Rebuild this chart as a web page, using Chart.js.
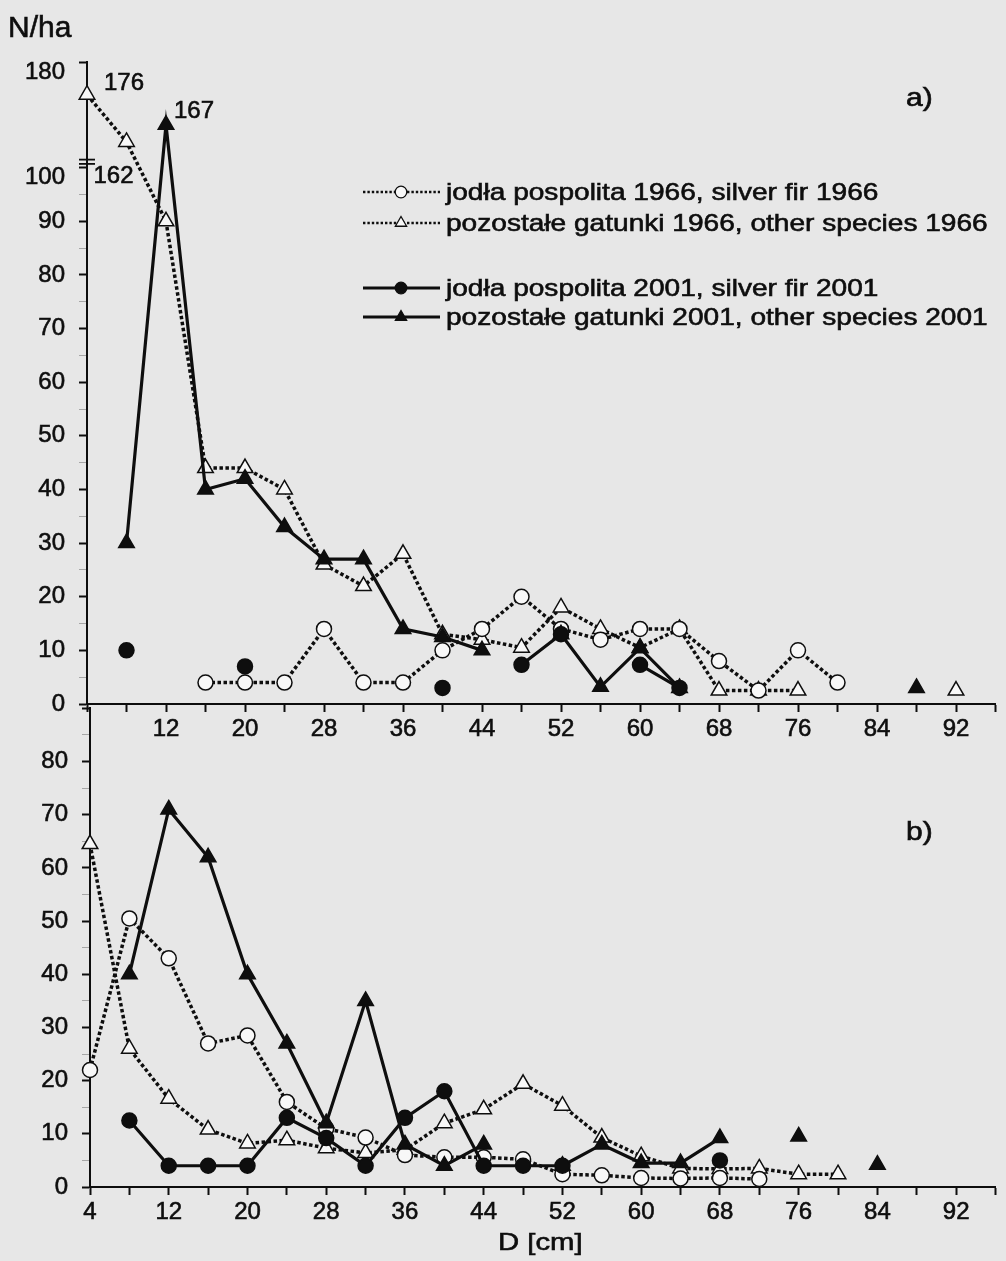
<!DOCTYPE html>
<html>
<head>
<meta charset="utf-8">
<script src="https://cdn.jsdelivr.net/npm/chart.js@4.4.1/dist/chart.umd.min.js"></script>
<style>
html,body{margin:0;padding:0;background:#e7e7e7;}
body{width:1006px;height:1261px;position:relative;overflow:hidden;font-family:"Liberation Sans",Arial,sans-serif;color:#0e0e0e;}
canvas{position:absolute;left:0;}
#c1{top:0;}
#c2{top:680px;}
.lbl{position:absolute;white-space:nowrap;line-height:1;transform-origin:left top;-webkit-text-stroke:0.6px #0e0e0e;}
</style>
</head>
<body>
<canvas id="c1" width="1006" height="760"></canvas>
<canvas id="c2" width="1006" height="581"></canvas>
<div class="lbl" style="left:8px;top:12px;font-size:30px;">N/ha</div>
<div class="lbl" style="left:906px;top:85px;font-size:25px;transform:scaleX(1.2);">a)</div>
<div class="lbl" style="left:906px;top:819px;font-size:25px;transform:scaleX(1.2);">b)</div>
<div class="lbl" style="left:498px;top:1230px;font-size:24px;transform:scaleX(1.22);">D [cm]</div>
<script>
// ---------- DATA ----------
const D = [4,8,12,16,20,24,28,32,36,40,44,48,52,56,60,64,68,72,76,80,84,88,92];
const X_TICKS = [4,8,12,16,20,24,28,32,36,40,44,48,52,56,60,64,68,72,76,80,84,88,92,96];

const LABELS = [
  'jodła pospolita 1966, silver fir 1966',
  'pozostałe gatunki 1966, other species 1966',
  'jodła pospolita 2001, silver fir 2001',
  'pozostałe gatunki 2001, other species 2001'
];

// panel a)
const aFir1966   = [null,null,null,4,4,4,14,4,4,10,14,20,14,12,14,14,8,2.5,10,4,null,null,null];
const aOther1966 = [176,162,90,44,44,40,26,22,28,13,12,10.5,18,14,10.5,14,2.5,2.5,2.5,null,null,null,2.5];
const aFir2001   = [null,10,null,null,7,null,null,null,null,3,null,7.3,13,null,7.3,3,null,null,null,null,null,null,null];
const aOther2001 = [null,30,167,40,42,33,27,27,14,12.5,10,null,13,3.2,10.4,3,null,null,null,null,null,3,null];

// panel b)
const bFir1966   = [22,50.5,43,27,28.5,16,11,9.3,6,5.6,5.6,5.2,2.4,2.2,1.7,1.6,1.7,1.5,null,null,null,null,null];
const bOther1966 = [64.5,26,16.6,10.8,8.2,8.8,7.3,6.4,7,12,14.6,19.4,15.3,9.3,5.8,3.5,3.4,3.5,2.4,2.4,null,null,null];
const bFir2001   = [null,12.5,4,4,4,13,9.2,4,13,18,4,4,4,null,null,null,5,null,null,null,null,null,null];
const bOther2001 = [null,40,71,62,40,27,12,35,8,4,8,null,4,8,4.5,4.5,9.2,null,9.5,null,4.2,null,null];

// y ticks
const A_Y_TICKS = [0,5,10,15,20,25,30,35,40,45,50,55,60,65,70,75,80,85,90,95,100];
const A_Y_BREAK_TOP = 180;
const B_Y_TICKS = [0,5,10,15,20,25,30,35,40,45,50,55,60,65,70,75,80,85,90];

// broken axis (panel a): real values above 100 -> compressed display positions
const BREAK_REAL = [100, 162, 167, 176, 180];
const BREAK_DISP = [100, 104.8, 108, 113.6, 119.7];
function toDisp(v){
  if (v <= 100) return v;
  for (let i = 1; i < BREAK_REAL.length; i++){
    if (v <= BREAK_REAL[i]){
      const t = (v - BREAK_REAL[i-1])/(BREAK_REAL[i]-BREAK_REAL[i-1]);
      return BREAK_DISP[i-1] + t*(BREAK_DISP[i]-BREAK_DISP[i-1]);
    }
  }
  return BREAK_DISP[BREAK_DISP.length-1];
}

// ---------- STYLE ----------
const FONT = '"Liberation Sans", Arial, sans-serif';
const INK = '#0e0e0e';
const HOLLOW = '#f8f8f8';
const TXT_STROKE = 0.6;
Chart.defaults.font.family = FONT;
Chart.defaults.font.size = 24;
Chart.defaults.color = INK;

const STY = [
  {pointStyle:'circle',   fill:HOLLOW, dash:[3.5,2.5], order:2, r:7.5, w:3.5},
  {pointStyle:'triangle', fill:HOLLOW, dash:[3.5,2.5], order:3, r:9,   w:3.5},
  {pointStyle:'circle',   fill:INK,    dash:[],        order:0, r:7.5, w:3.2},
  {pointStyle:'triangle', fill:INK,    dash:[],        order:1, r:9,   w:3.2}
];

function makeDatasets(series, disp){
  return series.map((vals, i) => ({
    label: LABELS[i],
    data: D.map((x, j) => ({x: x, y: vals[j] == null ? null : disp(vals[j])})),
    borderColor: INK,
    borderWidth: STY[i].w,
    borderDash: STY[i].dash,
    borderCapStyle: 'butt',
    pointStyle: STY[i].pointStyle,
    pointRadius: STY[i].r,
    pointBackgroundColor: STY[i].fill,
    pointBorderColor: INK,
    pointBorderWidth: 1.5,
    spanGaps: false,
    tension: 0,
    clip: false,
    order: STY[i].order
  }));
}

function drawMarker(ctx, style, r, x, y){
  ctx.beginPath();
  if (style === 'circle'){
    ctx.arc(x, y, r, 0, Math.PI*2);
  } else {
    let a = 0;
    ctx.moveTo(x + Math.sin(a)*r, y - Math.cos(a)*r);
    a += 2*Math.PI/3; ctx.lineTo(x + Math.sin(a)*r, y - Math.cos(a)*r);
    a += 2*Math.PI/3; ctx.lineTo(x + Math.sin(a)*r, y - Math.cos(a)*r);
    ctx.closePath();
  }
  ctx.fill(); ctx.stroke();
}

function heavyText(ctx, text, x, y){
  ctx.fillText(text, x, y);
  ctx.lineWidth = TXT_STROKE; ctx.strokeStyle = INK;
  ctx.strokeText(text, x, y);
}

const LEGEND_ROWS = [192, 223, 288, 317];
const LEGEND_X = {lineStart:363, marker:401, lineEnd:440, text:446};
const ANNOT = [
  {series:'aOther1966', idx:0, dx:17, dy:-11},
  {series:'aOther2001', idx:2, dx:8,  dy:-13},
  {series:'aOther1966', idx:1, dx:-33, dy:34}
];
const SERIES_A = {aFir1966, aOther1966, aFir2001, aOther2001};

const overlayA = {
  id: 'overlayA',
  afterDraw(chart){
    const ctx = chart.ctx;
    const xs = chart.scales.x, ys = chart.scales.y;
    // axis break marks
    ctx.save();
    ctx.strokeStyle = INK; ctx.lineWidth = 1.8;
    [100.7, 101.5].forEach(v => {
      const py = ys.getPixelForValue(v);
      ctx.beginPath(); ctx.moveTo(xs.left - 8, py); ctx.lineTo(xs.left + 8, py); ctx.stroke();
    });
    ctx.restore();
    // value annotations
    ctx.save();
    ctx.fillStyle = INK; ctx.font = '24px ' + FONT;
    ctx.textAlign = 'left'; ctx.textBaseline = 'middle';
    ANNOT.forEach(a => {
      const v = SERIES_A[a.series][a.idx];
      const px = xs.getPixelForValue(D[a.idx]);
      const py = ys.getPixelForValue(toDisp(v));
      heavyText(ctx, String(v), px + a.dx, py + a.dy);
    });
    ctx.restore();
    // legend
    chart.data.datasets.forEach((ds, i) => {
      const y = LEGEND_ROWS[i];
      ctx.save();
      ctx.strokeStyle = INK;
      const dotted = ds.borderDash.length > 0;
      ctx.lineWidth = dotted ? 2.4 : 3;
      ctx.setLineDash(dotted ? [2.4,2] : []);
      ctx.beginPath(); ctx.moveTo(LEGEND_X.lineStart, y); ctx.lineTo(LEGEND_X.lineEnd, y); ctx.stroke();
      ctx.setLineDash([]);
      ctx.fillStyle = ds.pointBackgroundColor; ctx.lineWidth = 1.3;
      drawMarker(ctx, ds.pointStyle, ds.pointStyle === 'circle' ? 5.8 : 6.5, LEGEND_X.marker, y);
      ctx.fillStyle = INK; ctx.font = '24px ' + FONT;
      ctx.textAlign = 'left'; ctx.textBaseline = 'middle';
      ctx.translate(LEGEND_X.text, y); ctx.scale(1.17, 1);
      heavyText(ctx, ds.label, 0, 1);
      ctx.restore();
    });
  }
};

function gridOpts(isMinor){
  return {
    display: true,
    drawOnChartArea: false,
    drawTicks: true,
    tickLength: 8,
    tickColor: c => (c.tick && isMinor(c.tick.value)) ? 'rgba(0,0,0,0.28)' : INK,
    tickWidth: c => (c.tick && isMinor(c.tick.value)) ? 1 : 2
  };
}

function xScale(labelFn, height){
  return {
    type: 'linear', min: 4, max: 96,
    afterBuildTicks: s => { s.ticks = X_TICKS.map(v => ({value: v})); },
    afterFit: s => { s.height = height; },
    border: {display: true, color: INK, width: 2},
    grid: gridOpts(() => false),
    ticks: {autoSkip: false, maxRotation: 0, minRotation: 0, padding: 3, color: INK,
            textStrokeColor: INK, textStrokeWidth: TXT_STROKE,
            font: {size: 24}, callback: v => labelFn(v)}
  };
}

// ---------- CHART a) ----------
const A_TOP_DISP = toDisp(A_Y_BREAK_TOP);
new Chart(document.getElementById('c1'), {
  type: 'line',
  data: {datasets: makeDatasets([aFir1966, aOther1966, aFir2001, aOther2001], toDisp)},
  options: {
    responsive: false, animation: false, events: [],
    layout: {padding: {left: 0, top: 62, right: 3, bottom: 0}},
    plugins: {legend: {display: false}, tooltip: {enabled: false}},
    scales: {
      x: xScale(v => (v >= 12 && v <= 92 && (v - 12) % 8 === 0) ? String(v) : '', 56),
      y: {
        type: 'linear', min: 0, max: A_TOP_DISP,
        afterBuildTicks: s => { s.ticks = A_Y_TICKS.concat([A_TOP_DISP]).map(v => ({value: v})); },
        afterFit: s => { s.width = 87; },
        border: {display: true, color: INK, width: 2},
        grid: gridOpts(v => v % 10 !== 0 && v !== A_TOP_DISP),
        ticks: {
          autoSkip: false, padding: 14, color: INK, font: {size: 24, lineHeight: 0.85},
          textStrokeColor: INK, textStrokeWidth: TXT_STROKE,
          callback: v => {
            if (v === A_TOP_DISP) return ['', String(A_Y_BREAK_TOP)];
            if (v === 100) return ['', '100'];
            return v % 10 === 0 ? String(v) : '';
          }
        }
      }
    }
  },
  plugins: [overlayA]
});

// ---------- CHART b) ----------
new Chart(document.getElementById('c2'), {
  type: 'line',
  data: {datasets: makeDatasets([bFir1966, bOther1966, bFir2001, bOther2001], v => v)},
  options: {
    responsive: false, animation: false, events: [],
    layout: {padding: {left: 0, top: 25, right: 1, bottom: 0}},
    plugins: {legend: {display: false}, tooltip: {enabled: false}},
    scales: {
      x: xScale(v => (v <= 92 && (v - 4) % 8 === 0) ? String(v) : '', 74),
      y: {
        type: 'linear', min: 0, max: 90,
        afterBuildTicks: s => { s.ticks = B_Y_TICKS.map(v => ({value: v})); },
        afterFit: s => { s.width = 90; },
        border: {display: true, color: INK, width: 2},
        grid: gridOpts(v => v % 10 !== 0),
        ticks: {
          autoSkip: false, padding: 14, color: INK, font: {size: 24},
          textStrokeColor: INK, textStrokeWidth: TXT_STROKE,
          callback: v => (v % 10 === 0 && v < 90) ? String(v) : ''
        }
      }
    }
  }
});
</script>
</body>
</html>
